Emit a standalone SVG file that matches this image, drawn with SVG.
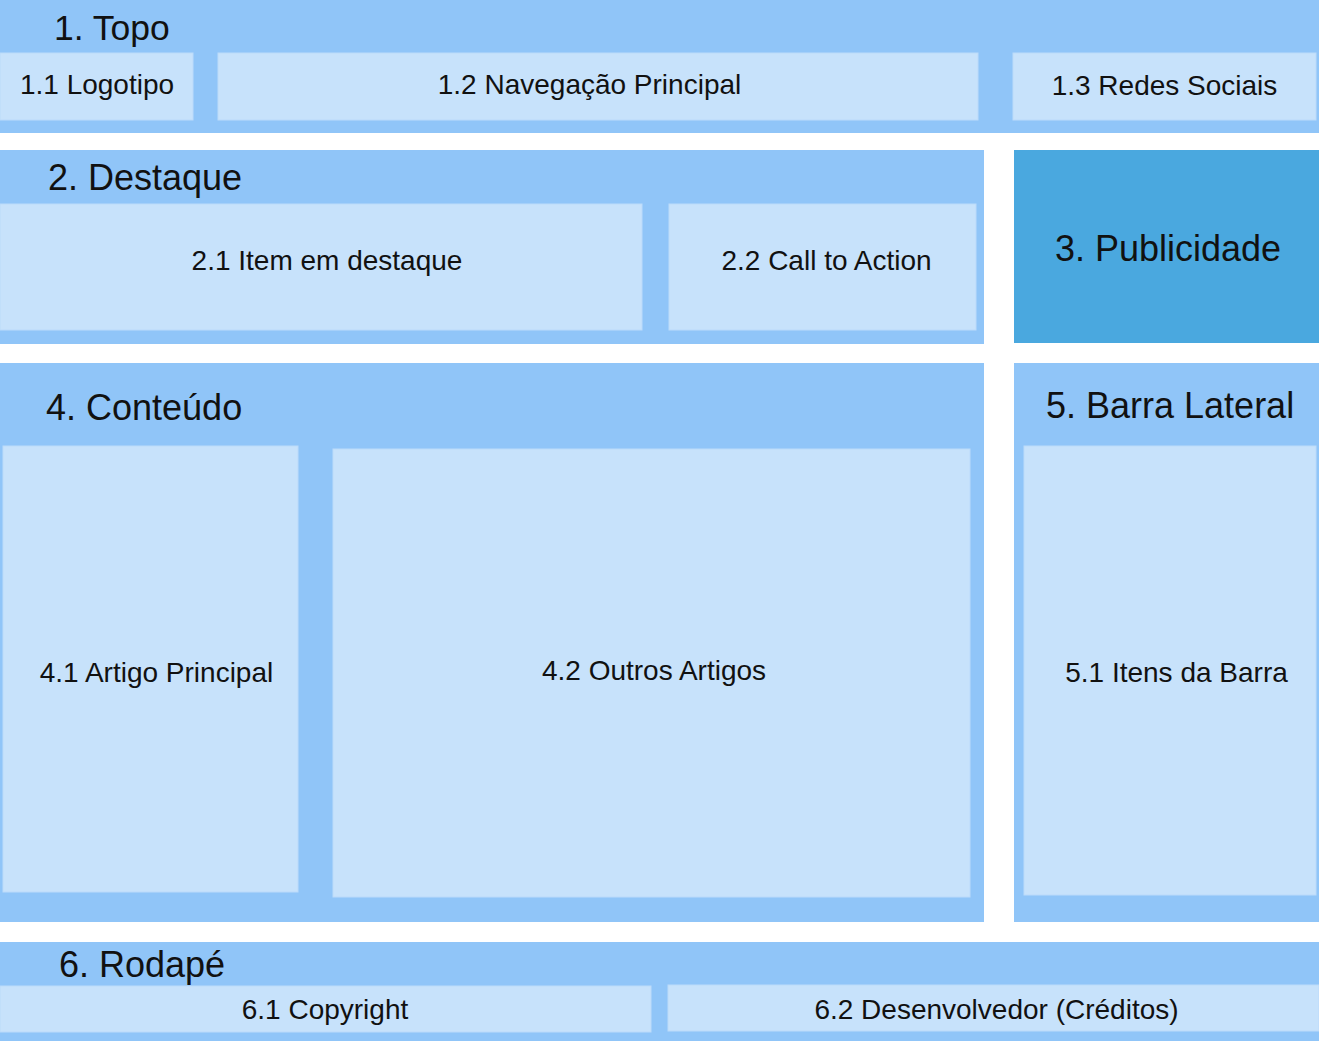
<svg xmlns="http://www.w3.org/2000/svg" width="1319" height="1041" viewBox="0 0 1319 1041">
<style>
.sec{fill:#90C5F8}
.box{fill:#C7E2FB;stroke:#BBDBFA;stroke-width:1}
.pub{fill:#4AA8DF}
.t{font-family:"Liberation Sans",Arial,sans-serif;font-size:36px;fill:#111}
.s{font-family:"Liberation Sans",Arial,sans-serif;font-size:28px;fill:#111;text-anchor:middle}
</style>
<rect width="1319" height="1041" fill="#ffffff"/>
<g id="sec1">
<rect class="sec" x="0" y="0" width="1319" height="133"/>
<text class="t" x="54" y="40" style="font-size:35.5px">1. Topo</text>
</g>
<g id="n1-1"><rect class="box" x="0" y="53" width="193" height="67"/><text class="s" x="97" y="94">1.1 Logotipo</text></g>
<g id="n1-2"><rect class="box" x="218" y="53" width="760" height="67"/><text class="s" x="589.5" y="94">1.2 Navegação Principal</text></g>
<g id="n1-3"><rect class="box" x="1013" y="53" width="303" height="67"/><text class="s" x="1164.5" y="95">1.3 Redes Sociais</text></g>
<g id="sec2">
<rect class="sec" x="0" y="150" width="984" height="194"/>
<text class="t" x="48" y="190">2. Destaque</text>
</g>
<g id="n2-1"><rect class="box" x="0" y="204" width="642" height="126"/><text class="s" x="327" y="270">2.1 Item em destaque</text></g>
<g id="n2-2"><rect class="box" x="669" y="204" width="307" height="126"/><text class="s" x="826.5" y="270">2.2 Call to Action</text></g>
<g id="sec3">
<rect class="pub" x="1014" y="150" width="305" height="193"/>
<text class="t" x="1168" y="261" text-anchor="middle">3. Publicidade</text>
</g>
<g id="sec4">
<rect class="sec" x="0" y="363" width="984" height="559"/>
<text class="t" x="46" y="420">4. Conteúdo</text>
</g>
<g id="n4-1"><rect class="box" x="3" y="446" width="295" height="446"/><text class="s" x="156.5" y="682">4.1 Artigo Principal</text></g>
<g id="n4-2"><rect class="box" x="333" y="449" width="637" height="448"/><text class="s" x="654" y="680">4.2 Outros Artigos</text></g>
<g id="sec5">
<rect class="sec" x="1014" y="363" width="305" height="559"/>
<text class="t" x="1046" y="418">5. Barra Lateral</text>
</g>
<g id="n5-1"><rect class="box" x="1024" y="446" width="292" height="449"/><text class="s" x="1176.5" y="682">5.1 Itens da Barra</text></g>
<g id="sec6">
<rect class="sec" x="0" y="942" width="1319" height="99"/>
<text class="t" x="59" y="977">6. Rodapé</text>
</g>
<g id="n6-1"><rect class="box" x="0" y="986" width="651" height="46"/><text class="s" x="325" y="1019">6.1 Copyright</text></g>
<g id="n6-2"><rect class="box" x="668" y="985" width="651" height="46"/><text class="s" x="996.5" y="1019">6.2 Desenvolvedor (Créditos)</text></g>
<g id="connectors"></g>
</svg>
